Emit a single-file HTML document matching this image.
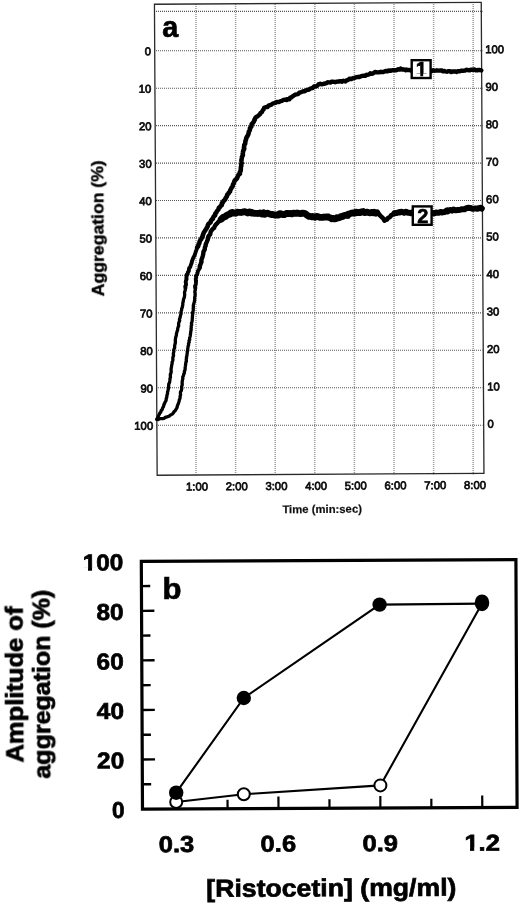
<!DOCTYPE html>
<html><head><meta charset="utf-8"><title>Figure</title>
<style>
html,body{margin:0;padding:0;background:#fff;}
body{width:520px;height:904px;overflow:hidden;}
svg{display:block;font-family:"Liberation Sans",sans-serif;}
.t{font-size:11.3px;fill:#111;stroke:#111;stroke-width:.75px;}
.tb{font-size:11.3px;font-weight:bold;fill:#111;stroke:#111;stroke-width:.2px;}
.ag{font-size:17px;font-weight:bold;fill:#000;stroke:#000;stroke-width:.4px;}
.pl{font-size:30px;font-weight:bold;fill:#000;stroke:#000;stroke-width:.7px;}
.bx{font-size:20px;font-weight:bold;fill:#000;stroke:#000;stroke-width:.6px;}
.bt{font-size:23px;font-weight:bold;fill:#000;stroke:#000;stroke-width:.7px;}
.bt2{font-size:23px;font-weight:bold;fill:#000;stroke:#000;stroke-width:.7px;}
.bx2{font-size:24.6px;font-weight:bold;fill:#000;stroke:#000;stroke-width:.7px;}
.by{font-size:23.3px;font-weight:bold;fill:#000;stroke:#000;stroke-width:.7px;}
</style></head><body>
<svg width="520" height="904" viewBox="0 0 520 904">
<defs><filter id="soft" x="0" y="0" width="520" height="904" filterUnits="userSpaceOnUse"><feGaussianBlur stdDeviation="0.38"/></filter></defs>
<rect width="520" height="904" fill="#fff"/>
<g filter="url(#soft)">
<g stroke="#555" stroke-width="1.1" stroke-dasharray="1 1" fill="none"><line stroke="#999" stroke-width="1.5" x1="196.0" y1="4" x2="196.0" y2="474.5"/><line stroke="#999" stroke-width="1.5" x1="235.6" y1="4" x2="235.6" y2="474.5"/><line stroke="#999" stroke-width="1.5" x1="275.2" y1="4" x2="275.2" y2="474.5"/><line stroke="#999" stroke-width="1.5" x1="314.8" y1="4" x2="314.8" y2="474.5"/><line stroke="#999" stroke-width="1.5" x1="354.4" y1="4" x2="354.4" y2="474.5"/><line stroke="#999" stroke-width="1.5" x1="394.0" y1="4" x2="394.0" y2="474.5"/><line stroke="#999" stroke-width="1.5" x1="433.6" y1="4" x2="433.6" y2="474.5"/><line stroke="#999" stroke-width="1.5" x1="473.2" y1="4" x2="473.2" y2="474.5"/><line x1="156" y1="11.4" x2="482.5" y2="11.4"/><line x1="156" y1="50.7" x2="482.5" y2="50.7"/><line x1="156" y1="88.2" x2="482.5" y2="88.2"/><line x1="156" y1="125.6" x2="482.5" y2="125.6"/><line x1="156" y1="163.1" x2="482.5" y2="163.1"/><line x1="156" y1="200.5" x2="482.5" y2="200.5"/><line x1="156" y1="237.9" x2="482.5" y2="237.9"/><line x1="156" y1="275.4" x2="482.5" y2="275.4"/><line x1="156" y1="312.9" x2="482.5" y2="312.9"/><line x1="156" y1="350.3" x2="482.5" y2="350.3"/><line x1="156" y1="387.8" x2="482.5" y2="387.8"/><line x1="156" y1="425.2" x2="482.5" y2="425.2"/></g><g transform="rotate(-0.33 319.2 238.8)"><rect x="155.8" y="3.3" width="326.8" height="471.0" fill="none" stroke="#2a2a2a" stroke-width="1.3"/><text x="152.1" y="54.3" text-anchor="end" class="t">0</text><text x="486.3" y="54.3" class="t">100</text><text x="152.1" y="91.8" text-anchor="end" class="t">10</text><text x="486.3" y="91.8" class="t">90</text><text x="152.1" y="129.2" text-anchor="end" class="t">20</text><text x="486.3" y="129.2" class="t">80</text><text x="152.1" y="166.7" text-anchor="end" class="t">30</text><text x="486.3" y="166.7" class="t">70</text><text x="152.1" y="204.1" text-anchor="end" class="t">40</text><text x="486.3" y="204.1" class="t">60</text><text x="152.1" y="241.5" text-anchor="end" class="t">50</text><text x="486.3" y="241.5" class="t">50</text><text x="152.1" y="279.0" text-anchor="end" class="t">60</text><text x="486.3" y="279.0" class="t">40</text><text x="152.1" y="316.5" text-anchor="end" class="t">70</text><text x="486.3" y="316.5" class="t">30</text><text x="152.1" y="353.9" text-anchor="end" class="t">80</text><text x="486.3" y="353.9" class="t">20</text><text x="152.1" y="391.4" text-anchor="end" class="t">90</text><text x="486.3" y="391.4" class="t">10</text><text x="152.1" y="428.8" text-anchor="end" class="t">100</text><text x="486.3" y="428.8" class="t">0</text><text x="195.6" y="489.8" text-anchor="middle" class="t">1:00</text><text x="235.3" y="489.8" text-anchor="middle" class="t">2:00</text><text x="275.0" y="489.8" text-anchor="middle" class="t">3:00</text><text x="314.7" y="489.8" text-anchor="middle" class="t">4:00</text><text x="354.4" y="489.8" text-anchor="middle" class="t">5:00</text><text x="394.1" y="489.8" text-anchor="middle" class="t">6:00</text><text x="433.9" y="489.8" text-anchor="middle" class="t">7:00</text><text x="473.6" y="489.8" text-anchor="middle" class="t">8:00</text><text x="320.6" y="513" text-anchor="middle" class="tb">Time (min:sec)</text><text transform="translate(103.6 227) rotate(-90)" text-anchor="middle" class="ag" textLength="136" lengthAdjust="spacingAndGlyphs">Aggregation (%)</text></g><text x="162.2" y="36.6" class="pl" textLength="16" lengthAdjust="spacingAndGlyphs">a</text>
<path d="M156.7 419.4 L157.5 418.1 L158.1 417.0 L158.5 415.8 L159.2 414.5 L159.8 413.1 L160.7 412.3 L161.2 410.6 L162.0 409.9 L162.5 408.3 L163.3 406.9 L163.7 405.9 L163.9 404.6 L164.5 403.8 L164.9 402.4 L165.8 401.1 L166.2 399.7 L166.2 398.5 L166.8 397.3 L166.8 396.0 L167.2 394.5 L167.6 393.4 L167.5 391.9 L168.0 390.8 L168.3 389.1 L168.7 387.6 L168.6 386.7 L168.7 385.2 L168.8 383.9 L169.5 382.5 L169.8 381.0 L169.9 379.8 L170.0 378.4 L170.4 377.4 L170.4 375.8 L170.3 374.5 L170.9 373.3 L171.2 371.6 L171.1 370.5 L171.1 369.0 L171.4 367.4 L171.5 366.5 L171.8 364.8 L172.1 363.8 L172.1 362.2 L172.6 361.2 L172.9 359.8 L172.8 358.2 L173.0 357.1 L173.6 355.4 L173.3 354.1 L173.5 352.9 L173.9 351.4 L173.7 350.2 L174.1 348.9 L174.7 347.6 L174.6 346.2 L174.9 344.5 L175.2 343.6 L175.4 342.3 L175.3 340.7 L175.4 339.5 L175.6 337.8 L176.0 336.5 L176.4 335.1 L176.4 333.8 L176.8 332.6 L177.0 331.6 L177.7 329.8 L177.7 328.6 L178.1 327.1 L178.6 326.3 L178.6 324.7 L178.7 323.1 L179.1 321.9 L179.7 320.5 L179.4 319.6 L180.0 317.8 L180.3 316.4 L180.5 315.6 L181.0 314.1 L180.9 312.6 L181.1 311.5 L181.6 310.2 L181.7 308.5 L182.2 307.6 L182.5 306.2 L182.8 304.6 L182.8 303.0 L183.3 301.2 L183.4 299.9 L183.7 298.7 L184.4 297.2 L184.5 296.2 L184.7 294.5 L184.5 293.0 L184.7 291.6 L185.1 290.7 L185.4 289.1 L185.4 287.7" fill="none" stroke="#000" stroke-width="3.3" stroke-linejoin="round" stroke-linecap="round"/>
<path d="M185.5 287.9 L185.2 286.4 L186.0 285.0 L186.0 283.4 L185.7 282.2 L186.0 280.7 L186.6 279.0 L186.3 278.0 L186.7 276.0 L186.7 274.6 L187.8 273.8 L187.8 272.4 L188.8 271.0 L188.9 269.6 L189.2 267.9 L190.3 267.0 L190.5 265.9 L191.0 264.6 L191.7 262.8 L191.8 261.6 L192.3 260.5 L192.8 259.0 L193.2 258.1 L193.9 256.5 L194.6 255.5 L194.9 254.2 L195.5 252.6 L196.0 250.9 L196.5 249.7 L196.7 248.8 L197.5 247.3" fill="none" stroke="#000" stroke-width="3.9" stroke-linejoin="round" stroke-linecap="round"/>
<path d="M197.2 247.3 L198.3 246.0 L198.5 244.6 L199.3 243.5 L199.5 242.0 L200.2 240.3 L201.2 239.2 L201.6 238.1 L202.5 236.5 L202.8 235.2 L203.3 234.0 L203.8 232.6 L204.4 231.6 L205.3 230.4 L206.3 228.7 L206.7 228.1 L207.7 226.2 L207.8 225.4 L208.5 224.0 L209.2 223.3 L210.6 222.3 L210.8 221.0 L212.0 219.3 L212.9 218.9 L213.1 217.7 L214.0 216.1 L215.2 215.3 L215.2 213.8 L216.3 212.5 L216.8 211.4 L218.0 209.9 L218.6 209.2 L218.8 207.9 L220.1 206.9 L220.4 206.2 L221.8 205.0 L221.9 203.2 L222.7 202.6 L223.6 200.8 L224.5 200.4 L225.6 198.5 L225.8 197.9 L226.9 196.4 L227.2 194.6 L228.5 193.7 L228.7 192.9 L230.0 191.5 L230.2 190.3 L230.9 189.0 L231.9 187.2 L232.6 186.4 L233.0 184.4 L233.9 183.2 L234.2 181.8 L234.8 180.5 L235.8 179.5 L237.0 178.3 L237.5 177.0 L238.1 175.7 L238.8 174.5 L240.0 173.8 L239.8 172.4 L240.7 170.7 L240.8 169.6 L240.8 168.6 L240.9 166.9 L241.3 166.0 L241.2 164.6 L241.7 163.1 L241.5 161.5 L241.4 160.0 L241.6 159.2 L241.9 157.4 L242.0 156.7 L242.9 155.3 L242.7 153.6 L242.9 152.6 L243.1 151.3 L243.4 150.4 L244.3 148.8 L243.9 147.9 L244.2 146.1 L244.3 144.8 L245.2 143.6 L245.3 142.3 L245.5 140.8 L246.0 139.7 L246.3 138.0 L246.9 136.9 L247.6 135.9 L248.1 134.7 L248.6 133.6 L248.8 131.8 L249.8 130.3 L250.0 129.5 L249.9 128.3 L251.2 126.8 L251.5 125.7 L251.7 124.1 L252.7 123.1 L253.7 121.9 L254.2 120.6 L254.8 119.0" fill="none" stroke="#000" stroke-width="4.6" stroke-linejoin="round" stroke-linecap="round"/>
<path d="M255.0 119.2 L255.5 117.5 L256.3 116.9 L257.3 116.5 L258.7 115.3 L259.8 114.4 L260.6 112.8 L261.7 112.5 L262.2 111.3 L263.2 109.7 L264.1 108.9 L264.1 107.8 L266.2 107.0 L267.6 107.0 L268.6 105.6 L270.0 105.1 L271.5 104.6 L272.7 103.5 L273.4 103.3 L275.3 102.9 L276.4 102.1 L277.2 101.9 L279.2 102.0 L280.6 101.1 L281.9 100.8 L283.2 100.0 L285.1 99.7 L286.7 100.0 L287.0 99.1 L289.4 99.2 L290.1 97.7 L291.0 97.8 L292.2 96.6 L293.3 95.9 L295.3 94.7 L296.4 94.4 L297.7 94.1 L298.2 93.9 L299.7 92.4 L300.4 92.4 L302.1 91.8 L303.0 91.3 L304.4 91.4 L305.3 90.8 L307.5 89.6 L308.8 89.7 L310.0 88.8 L310.7 88.4 L312.6 88.1 L313.1 87.4 L314.4 86.3 L315.6 86.5 L317.2 85.9 L318.5 84.4 L320.2 83.7 L321.5 84.3 L323.5 83.8 L324.6 83.7 L326.4 83.1 L327.6 82.3 L329.1 82.4 L330.4 82.5 L331.2 81.8 L333.2 81.8 L334.0 81.9 L335.1 82.2 L337.1 81.6 L338.1 81.5 L339.3 81.5 L340.3 81.1 L341.8 81.7 L343.5 80.8 L345.4 81.5 L346.4 80.4 L347.6 80.1 L348.8 79.3 L349.7 78.6 L351.4 79.0 L352.9 78.2 L353.9 78.1 L355.2 77.6 L356.2 77.2 L358.5 76.8 L359.4 77.0 L361.1 76.2 L361.8 75.9 L363.4 75.8 L365.3 75.9 L366.6 74.7 L367.0 75.0 L369.3 74.3 L370.3 73.3 L371.4 73.9 L373.2 73.3 L374.7 72.2 L375.1 72.0 L376.9 72.4 L378.7 72.3 L379.7 72.2 L380.9 71.8 L381.8 72.0 L383.3 72.0 L385.1 71.2 L385.9 71.0 L387.8 71.3 L388.5 70.5 L390.3 70.9 L391.5 70.4 L393.1 70.1 L394.1 70.3 L396.2 70.3 L397.4 69.8 L398.0 69.3 L400.2 69.6 L400.8 68.6 L402.4 69.5 L403.7 69.3 L405.3 70.2 L406.2 69.5 L407.7 70.1 L409.5 69.9 L410.9 70.6 L411.9 70.0 L413.8 70.2 L414.9 70.1 L415.6 70.7 L417.0 70.9 L418.5 70.1 L419.5 70.4 L421.3 71.0 L422.1 70.4 L423.5 71.1 L424.7 70.1 L425.9 70.5 L428.2 71.1 L429.3 71.3 L430.8 70.6 L431.3 71.3 L433.3 70.3 L434.6 70.7 L435.7 70.6 L436.9 70.3 L438.4 70.6 L440.6 70.4 L442.0 70.5 L442.7 71.3 L444.6 71.0 L445.1 71.2 L446.8 71.8 L448.0 71.3 L450.1 71.1 L451.0 72.1 L452.7 71.4 L453.3 71.5 L455.6 71.5 L456.7 72.0 L457.6 71.1 L459.6 71.3 L460.1 71.2 L461.5 70.6 L462.5 70.9 L465.0 70.5 L466.6 69.7 L467.4 70.0 L469.8 70.4 L470.7 69.6 L472.3 69.8 L474.5 69.5 L475.8 70.2 L477.3 70.3 L478.5 69.9 L479.6 70.0 L481.3 70.3" fill="none" stroke="#000" stroke-width="4.4" stroke-linejoin="round" stroke-linecap="round"/>
<path d="M157.0 419.3 L158.0 419.5 L159.4 418.7 L160.7 418.7 L162.4 418.6 L164.2 418.3 L165.3 417.4 L167.0 416.9 L169.1 416.2 L170.4 415.1 L172.2 414.1 L173.2 413.1 L174.1 411.6 L175.2 410.7 L176.0 409.3 L177.0 407.7 L177.3 406.1 L177.8 404.9 L178.6 402.9 L178.9 401.9 L179.3 400.0 L179.8 398.8 L180.2 397.1 L180.1 396.1 L180.6 394.9 L180.4 393.1 L180.6 391.7 L181.4 390.6 L181.6 389.2 L181.8 387.9 L181.6 386.7 L182.2 385.0 L182.2 383.9 L182.1 382.4 L182.3 381.0 L182.5 379.9 L182.9 378.3 L182.7 377.0 L183.5 375.6 L183.7 374.2 L184.4 373.1 L184.3 371.5 L184.9 370.4 L185.2 368.8 L185.1 367.8 L185.4 366.2 L185.5 365.3 L185.7 363.7 L185.9 362.2 L186.4 361.2 L186.2 359.4 L186.6 358.1 L186.4 357.2 L186.9 355.8 L187.0 354.5 L187.3 352.7 L187.2 351.6 L187.8 350.4 L187.7 348.9 L188.0 347.5 L188.1 346.0 L188.6 345.1 L188.5 343.4 L189.2 342.4 L189.0 340.5 L189.7 339.7 L189.6 337.8 L190.1 336.6 L190.3 335.4 L190.5 333.8 L190.7 332.5 L190.7 331.6 L191.2 329.8 L191.0 328.6 L191.3 327.3 L191.2 325.8 L191.7 324.9 L191.4 323.4 L192.0 321.7 L192.2 320.4 L192.2 319.4 L192.4 317.9 L192.4 316.7 L192.5 315.4 L192.7 314.0 L192.5 312.7 L193.0 311.2 L193.3 310.2 L193.2 308.5 L193.4 307.1 L193.3 306.0 L193.5 304.5 L194.1 302.7 L194.4 301.2 L194.7 300.2 L194.7 298.4 L194.7 297.2 L195.1 295.7 L195.1 294.8 L195.1 293.4 L194.8 292.1 L195.1 290.7 L195.4 288.9 L195.2 287.7" fill="none" stroke="#000" stroke-width="3.3" stroke-linejoin="round" stroke-linecap="round"/>
<path d="M195.4 288.0 L195.0 286.2 L195.7 284.6 L195.9 283.2 L196.0 281.7 L195.9 280.8 L195.8 278.9 L196.2 277.5 L196.0 276.0 L196.6 275.2 L197.4 273.8 L197.6 272.4 L198.0 270.9 L198.9 269.5 L199.6 268.3 L199.8 266.9" fill="none" stroke="#000" stroke-width="3.9" stroke-linejoin="round" stroke-linecap="round"/>
<path d="M199.9 267.2 L199.8 266.0 L200.5 264.3 L201.0 262.9 L201.5 261.9 L201.3 260.7 L201.7 259.0 L202.3 257.6 L202.6 256.5 L202.8 255.8 L203.2 254.2 L203.4 252.4 L203.6 251.2 L204.4 250.1 L204.8 249.1 L204.9 247.3 L205.7 245.8 L205.6 244.8 L206.1 243.4 L206.6 242.3 L207.3 240.6 L207.8 239.5 L207.8 238.6 L208.3 236.6 L208.9 235.6 L210.2 234.4 L210.5 232.6 L210.8 231.5 L211.9 229.9 L212.9 228.8 L214.1 227.9 L214.5 226.8 L215.2 225.4 L216.4 224.0 L217.1 223.4 L218.0 222.2 L219.7 220.8 L220.0 220.1 L221.2 219.0" fill="none" stroke="#000" stroke-width="4.4" stroke-linejoin="round" stroke-linecap="round"/>
<path d="M221.2 219.2 L222.8 217.7 L223.2 217.1 L223.9 217.2 L226.2 216.1 L226.2 215.5 L228.7 214.4 L230.2 213.9 L230.8 212.9 L232.3 212.3 L233.9 213.2 L235.9 213.2 L237.4 212.2 L238.6 212.3 L240.4 212.3 L241.1 212.5 L243.6 211.9 L245.0 211.6 L245.5 211.9 L247.7 213.0 L249.2 212.0 L250.8 212.1 L251.3 213.1 L253.3 212.9 L254.8 213.4 L256.0 213.3 L257.6 213.5 L258.6 213.4 L260.1 212.9 L260.9 213.5 L262.1 214.0 L263.5 212.8 L264.8 214.3 L266.5 213.3 L267.4 213.2 L269.9 214.2 L271.3 214.5 L271.8 214.3 L273.7 214.8 L275.9 215.0 L276.2 214.9 L278.9 215.0 L279.1 213.9 L280.5 213.6 L283.1 214.7 L284.2 214.7 L285.6 213.9 L286.2 213.5 L288.5 213.5 L289.3 213.7 L290.2 213.4 L292.0 213.9 L293.5 213.2 L295.8 213.4 L297.0 213.4 L297.1 213.0 L299.1 213.4 L300.6 213.6 L302.5 213.2 L304.5 213.4 L306.0 214.1 L306.3 214.7 L308.9 216.4 L309.3 216.3 L311.4 216.8 L312.3 216.4 L313.9 217.0 L315.1 217.3 L316.5 216.3 L318.5 216.8 L319.0 217.0 L320.3 217.4 L322.6 217.4 L323.9 217.0 L324.9 217.2 L327.0 216.9 L328.3 217.0 L328.7 217.5 L331.1 218.0 L331.7 218.7 L332.8 218.3 L334.6 218.9 L336.3 218.4 L336.9 217.6 L337.9 218.0 L340.0 217.5 L340.5 216.7 L342.7 216.6 L343.0 216.1 L345.4 215.3 L345.7 215.1 L347.7 215.5 L348.2 214.1 L349.6 213.9 L351.4 213.2 L352.4 212.8 L354.8 213.1 L354.8 213.0 L356.1 212.1 L358.8 212.7 L359.7 212.2 L360.2 212.5 L361.4 211.8 L363.2 211.5 L364.5 212.6 L366.3 212.2 L367.6 212.2 L368.2 212.5 L370.0 212.8 L372.1 212.4 L373.0 212.9 L374.1 212.2 L376.0 213.3 L377.0 212.8" fill="none" stroke="#000" stroke-width="6.8" stroke-linejoin="round" stroke-linecap="round"/>
<path d="M377.3 213.0 L378.5 213.9 L379.4 214.6 L380.2 215.7 L381.1 216.4 L382.8 218.1 L383.7 219.0 L384.5 220.6 L385.9 219.7 L387.1 219.4 L387.7 218.3 L389.5 217.2 L390.3 216.8 L391.0 215.4 L392.3 214.7 L393.8 213.5" fill="none" stroke="#000" stroke-width="4.6" stroke-linejoin="round" stroke-linecap="round"/>
<path d="M394.5 213.5 L394.5 213.3 L396.4 213.1 L397.7 212.7 L399.4 212.1 L400.1 212.4 L401.1 211.7 L402.9 212.1 L404.0 212.8 L405.9 211.7 L407.4 212.5 L408.4 212.7 L410.4 213.2 L411.8 212.6 L412.9 213.4 L415.4 213.1 L415.6 213.5 L417.2 212.7 L418.2 213.5 L420.6 213.4 L421.4 213.3 L422.4 213.9 L423.9 213.4 L426.0 213.7 L426.8 213.0 L428.3 212.7 L430.1 213.1 L431.4 213.0 L432.1 213.0 L433.5 212.9 L434.2 213.5 L435.9 212.5 L437.3 212.7 L438.8 212.7 L440.5 212.0 L442.3 212.5 L442.3 212.2 L444.9 211.9 L445.1 211.8 L447.2 210.3 L447.6 211.5 L449.9 210.2 L450.4 209.9 L452.0 210.6 L453.5 209.5 L455.8 210.3 L456.0 210.2 L458.1 209.9 L459.5 209.9 L461.1 209.6 L461.5 209.2 L463.4 209.2 L464.6 209.3 L466.1 208.3 L467.0 208.0 L468.8 207.8 L470.1 207.9 L471.5 208.4 L472.9 208.8 L473.5 208.7 L475.7 208.4 L477.5 208.8 L478.6 208.3 L481.0 207.8 L481.8 208.5" fill="none" stroke="#000" stroke-width="6.0" stroke-linejoin="round" stroke-linecap="round"/>
<rect x="411.7" y="60.2" width="18.9" height="17.8" fill="#fff" stroke="#000" stroke-width="2.4"/>
<text x="421.2" y="76.3" text-anchor="middle" class="bx">1</text><rect x="416.2" y="73.7" width="4.1" height="2.9" fill="#fff"/><rect x="423.15" y="73.7" width="4" height="2.9" fill="#fff"/>
<rect x="412.8" y="206.4" width="18.8" height="18.4" fill="#fff" stroke="#000" stroke-width="2.4"/>
<text x="422.9" y="223" text-anchor="middle" class="bx">2</text>
<g transform="rotate(-0.27 329.2 684.3)"><rect x="141.9" y="560.4" width="374.6" height="247.8" fill="none" stroke="#000" stroke-width="3.2"/><line x1="141.9" y1="783.4" x2="150.7" y2="783.4" stroke="#000" stroke-width="2.4"/><line x1="141.9" y1="758.6" x2="154.7" y2="758.6" stroke="#000" stroke-width="2.4"/><line x1="141.9" y1="733.9" x2="150.7" y2="733.9" stroke="#000" stroke-width="2.4"/><line x1="141.9" y1="709.1" x2="154.7" y2="709.1" stroke="#000" stroke-width="2.4"/><line x1="141.9" y1="684.3" x2="150.7" y2="684.3" stroke="#000" stroke-width="2.4"/><line x1="141.9" y1="659.5" x2="154.7" y2="659.5" stroke="#000" stroke-width="2.4"/><line x1="141.9" y1="634.7" x2="150.7" y2="634.7" stroke="#000" stroke-width="2.4"/><line x1="141.9" y1="610.0" x2="154.7" y2="610.0" stroke="#000" stroke-width="2.4"/><line x1="141.9" y1="585.2" x2="150.7" y2="585.2" stroke="#000" stroke-width="2.4"/><line x1="227.0" y1="808.2" x2="227.0" y2="799.2" stroke="#000" stroke-width="2.2"/><line x1="277.9" y1="808.2" x2="277.9" y2="796.2" stroke="#000" stroke-width="2.2"/><line x1="328.9" y1="808.2" x2="328.9" y2="799.2" stroke="#000" stroke-width="2.2"/><line x1="379.8" y1="808.2" x2="379.8" y2="796.2" stroke="#000" stroke-width="2.2"/><line x1="430.8" y1="808.2" x2="430.8" y2="799.2" stroke="#000" stroke-width="2.2"/><line x1="481.7" y1="808.2" x2="481.7" y2="796.2" stroke="#000" stroke-width="2.2"/><text x="111.3" y="817.1" class="bt" textLength="12.6" lengthAdjust="spacingAndGlyphs">0</text><text x="96.7" y="767.5" class="bt" textLength="27.2" lengthAdjust="spacingAndGlyphs">20</text><text x="96.7" y="718.0" class="bt" textLength="27.2" lengthAdjust="spacingAndGlyphs">40</text><text x="96.7" y="668.4" class="bt" textLength="27.2" lengthAdjust="spacingAndGlyphs">60</text><text x="96.7" y="618.9" class="bt" textLength="27.2" lengthAdjust="spacingAndGlyphs">80</text><text x="83.2" y="569.3" class="bt" textLength="40.7" lengthAdjust="spacingAndGlyphs">100</text><rect x="83.24" y="566.05" width="5.31" height="4.55" fill="#fff"/><rect x="92.59" y="566.05" width="4.99" height="4.55" fill="#fff"/><text x="157.9" y="851.4" class="bt2" textLength="35.6" lengthAdjust="spacingAndGlyphs">0.3</text><text x="259.8" y="851.4" class="bt2" textLength="35.6" lengthAdjust="spacingAndGlyphs">0.6</text><text x="361.7" y="851.4" class="bt2" textLength="35.6" lengthAdjust="spacingAndGlyphs">0.9</text><text x="463.6" y="851.4" class="bt2" textLength="35.6" lengthAdjust="spacingAndGlyphs">1.2</text><rect x="463.72" y="848.15" width="5.51" height="4.55" fill="#fff"/><rect x="473.44" y="848.15" width="5.18" height="4.55" fill="#fff"/><text x="205.3" y="896.3" class="bx2" textLength="250.2" lengthAdjust="spacingAndGlyphs">[Ristocetin] (mg/ml)</text><text transform="translate(22.9 761.1) rotate(-90)" class="by" textLength="156" lengthAdjust="spacingAndGlyphs">Amplitude of</text><text transform="translate(49.8 777.3) rotate(-90)" class="by" textLength="189" lengthAdjust="spacingAndGlyphs">aggregation (%)</text></g><polyline points="176.2,792.7 243.8,698.0 379.6,604.6 482.0,603.6" fill="none" stroke="#000" stroke-width="2.1"/><polyline points="176.2,802.0 243.8,794.2 380.4,785.4 482.0,603.6" fill="none" stroke="#000" stroke-width="2.1"/><circle cx="176.2" cy="802.0" r="6" fill="#fff" stroke="#000" stroke-width="2"/><circle cx="243.8" cy="794.2" r="6" fill="#fff" stroke="#000" stroke-width="2"/><circle cx="380.4" cy="785.4" r="6" fill="#fff" stroke="#000" stroke-width="2"/><circle cx="176.2" cy="792.7" r="7.2" fill="#000"/><circle cx="243.8" cy="698.0" r="7.2" fill="#000"/><circle cx="379.6" cy="604.6" r="7.2" fill="#000"/><ellipse cx="482" cy="602.8" rx="7.3" ry="8.4" fill="#000"/><text x="162.6" y="598.8" class="pl" textLength="19" lengthAdjust="spacingAndGlyphs">b</text>
</g>
</svg>
</body></html>
